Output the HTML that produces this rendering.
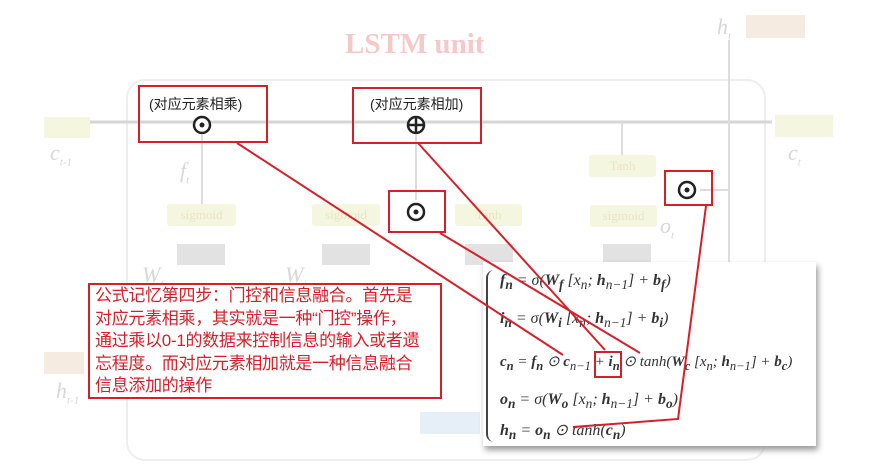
<!DOCTYPE html>
<html><head><meta charset="utf-8"><style>
html,body{margin:0;width:881px;height:469px;overflow:hidden}
body{background:#fff;position:relative;font-family:"Liberation Serif",serif}
.a{position:absolute}
.g{background:#f4f6df;color:#e8e4c8;font-size:13px;text-align:center;line-height:22px;border-radius:3px}
.rb{position:absolute;border:2px solid #d4202a;box-sizing:border-box}
.cn{font-family:"Liberation Sans","Noto Sans CJK SC",sans-serif;font-size:14px;color:#222}
.f{position:absolute;left:500px;font-size:16px;color:#333;font-style:italic;white-space:nowrap}
.lbl{color:#d8d8d8;font-style:italic;font-size:22px}
</style></head><body>
<svg class="a" style="left:0;top:0" width="881" height="469">
<rect x="127" y="80" width="638" height="380" rx="18" fill="none" stroke="#eee" stroke-width="2"/>
<line x1="90" y1="122" x2="772" y2="122" stroke="#d6d6d6" stroke-width="3"/>
<line x1="729" y1="40" x2="729" y2="440" stroke="#ddd" stroke-width="2"/>
<line x1="202" y1="135" x2="202" y2="204" stroke="#ddd" stroke-width="2"/>
<line x1="416" y1="135" x2="416" y2="200" stroke="#ddd" stroke-width="2"/>
<line x1="622" y1="122" x2="622" y2="155" stroke="#ddd" stroke-width="2"/>
<line x1="700" y1="190" x2="729" y2="190" stroke="#ddd" stroke-width="2"/>
<g fill="#f4f6df"><rect x="44" y="117" width="46" height="21"/><rect x="775" y="115" width="58" height="22"/></g>
<rect x="746" y="15" width="59" height="23" fill="#f5ebe0"/>
<g fill="#e2e2e2"><rect x="177" y="244" width="48" height="21"/><rect x="322" y="244" width="48" height="21"/><rect x="465" y="244" width="48" height="21"/><rect x="603" y="244" width="48" height="21"/></g>
<rect x="44" y="352" width="40" height="22" fill="#f5ebe0"/>
<rect x="420" y="412" width="60" height="22" fill="#e6eef7"/>
<g stroke="#222" stroke-width="2.5" fill="#fff"><circle cx="202" cy="125" r="8"/><circle cx="416" cy="125" r="8"/><circle cx="416" cy="212" r="8"/><circle cx="687" cy="190" r="8"/></g>
<g fill="#222"><circle cx="202" cy="125" r="2.5"/><circle cx="416" cy="212" r="2.5"/><circle cx="687" cy="190" r="2.5"/></g>
<line x1="408" y1="125" x2="424" y2="125" stroke="#222" stroke-width="2.5"/><line x1="416" y1="117" x2="416" y2="133" stroke="#222" stroke-width="2.5"/>
</svg>
<div class="a" style="left:345px;top:28px;font-size:29px;font-weight:bold;color:#f6c9c9">LSTM unit</div>
<div class="a lbl" style="left:717px;top:14px">h<sub style="font-size:11px">t</sub></div>
<div class="a lbl" style="left:50px;top:140px">c<sub style="font-size:11px">t-1</sub></div>
<div class="a lbl" style="left:788px;top:140px">c<sub style="font-size:11px">t</sub></div>
<div class="a lbl" style="left:180px;top:158px">f<sub style="font-size:11px">t</sub></div>
<div class="a lbl" style="left:660px;top:213px">o<sub style="font-size:11px">t</sub></div>
<div class="a lbl" style="left:142px;top:262px">W<sub style="font-size:11px">f</sub></div>
<div class="a lbl" style="left:285px;top:262px">W<sub style="font-size:11px">i</sub></div>
<div class="a lbl" style="left:56px;top:378px">h<sub style="font-size:11px">t-1</sub></div>
<div class="a g" style="left:167px;top:204px;width:69px">sigmoid</div>
<div class="a g" style="left:312px;top:204px;width:68px">sigmoid</div>
<div class="a g" style="left:455px;top:204px;width:67px">Tanh</div>
<div class="a g" style="left:590px;top:205px;width:67px">sigmoid</div>
<div class="a g" style="left:589px;top:155px;width:67px">Tanh</div>
<div class="rb" style="left:138px;top:85px;width:130px;height:58px"></div>
<div class="a cn" style="left:149px;top:94px">(对应元素相乘)</div>
<div class="rb" style="left:352px;top:87px;width:130px;height:57px"></div>
<div class="a cn" style="left:370px;top:94px">(对应元素相加)</div>
<div class="rb" style="left:388px;top:190px;width:58px;height:43px"></div>
<div class="rb" style="left:664px;top:170px;width:49px;height:36px"></div>
<div class="a" style="left:483px;top:262px;width:333px;height:184px;background:#fff;box-shadow:2px 4px 6px #999"></div>
<div class="a" style="left:486px;top:270px;width:10px;height:172px;border-left:2px solid #444;border-radius:8px 0 0 8px"></div>
<div class="f" style="top:272px"><b>f<sub>n</sub></b> = σ(<b>W<sub>f</sub></b> [x<sub>n</sub>; <b>h</b><sub>n−1</sub>] + <b>b<sub>f</sub></b>)</div>
<div class="f" style="top:310px"><b>i<sub>n</sub></b> = σ(<b>W<sub>i</sub></b> [x<sub>n</sub>; <b>h</b><sub>n−1</sub>] + <b>b<sub>i</sub></b>)</div>
<div class="f" style="top:352px;font-size:15px"><b>c<sub>n</sub></b> = <b>f<sub>n</sub></b> ⊙ <b>c</b><sub>n−1</sub> + <b>i<sub>n</sub></b> ⊙ tanh(<b>W<sub>c</sub></b> [x<sub>n</sub>; <b>h</b><sub>n−1</sub>] + <b>b<sub>c</sub></b>)</div>
<div class="f" style="top:391px"><b>o<sub>n</sub></b> = σ(<b>W<sub>o</sub></b> [x<sub>n</sub>; <b>h</b><sub>n−1</sub>] + <b>b<sub>o</sub></b>)</div>
<div class="f" style="top:420px"><b>h<sub>n</sub></b> = <b>o<sub>n</sub></b> ⊙ tanh(<b>c<sub>n</sub></b>)</div>
<div class="rb" style="left:88px;top:283px;width:354px;height:116px;background:#fff"></div>
<div class="a" style="left:95px;top:285px;width:345px;white-space:nowrap;font-family:'Liberation Sans','Noto Sans CJK SC',sans-serif;font-size:17px;letter-spacing:-0.3px;line-height:22.5px;color:#d4202a">公式记忆第四步：门控和信息融合。首先是<br>对应元素相乘，其实就是一种“门控”操作，<br>通过乘以0-1的数据来控制信息的输入或者遗<br>忘程度。而对应元素相加就是一种信息融合<br>信息添加的操作</div>
<div class="rb" style="left:594px;top:351px;width:28px;height:27px"></div>
<svg class="a" style="left:0;top:0" width="881" height="469">
<g stroke="#d4202a" stroke-width="2" fill="none">
<line x1="237" y1="143" x2="563" y2="355"/>
<line x1="418" y1="143" x2="605" y2="350"/>
<line x1="440" y1="233" x2="640" y2="353"/>
<polyline points="706,206 678,419 573,427"/>
</g></svg>
</body></html>
